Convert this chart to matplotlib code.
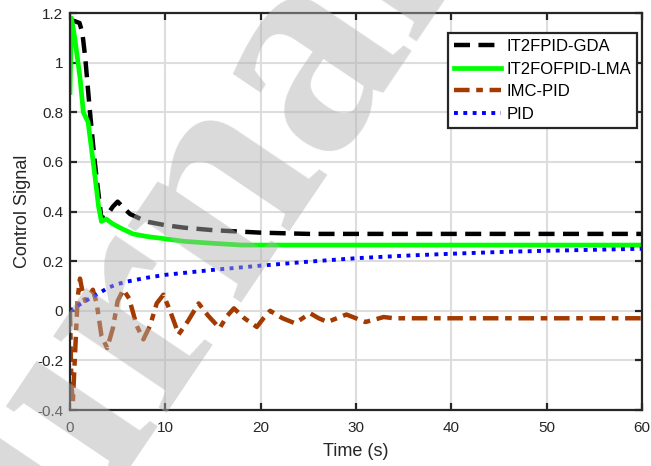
import matplotlib
matplotlib.use("Agg")
import matplotlib.pyplot as plt

plt.rcParams["font.family"] = ["Liberation Sans", "DejaVu Sans"]

# control signal traces, sampled at their corner/extreme points
t_gda = [0, 0.3, 1.0, 1.3, 1.6, 2.1, 2.6, 3.3, 3.8, 4.5, 5.0, 5.5, 6.3, 8, 10, 12, 15, 20, 25, 60]
u_gda = [1.17, 1.17, 1.16, 1.12, 1.02, 0.80, 0.60, 0.37, 0.38, 0.42, 0.44, 0.42, 0.39, 0.36,
         0.345, 0.335, 0.325, 0.315, 0.31, 0.31]

t_lma = [0, 0.15, 0.5, 1.05, 1.4, 1.9, 2.5, 3.0, 3.3, 3.8, 4.5, 5.5, 6.6, 8, 10, 12, 15, 18, 25, 60]
u_lma = [0.88, 1.18, 1.10, 0.94, 0.80, 0.76, 0.58, 0.42, 0.36, 0.37, 0.35, 0.33, 0.31, 0.30,
         0.29, 0.28, 0.272, 0.265, 0.265, 0.265]

t_imc = [0, 0.15, 0.3, 0.5, 0.8, 1.05, 1.3, 1.6, 2.0, 2.4, 2.8, 3.3, 3.9, 4.5, 5.0, 5.6, 6.2,
         7.0, 7.7, 8.4, 9.1, 9.8, 10.5, 11.4, 12.4, 13.5, 14.5, 15.7, 16.5, 17.2, 18.3, 19.6,
         20.3, 21.0, 22.3, 23.6, 24.4, 25.2, 26.1, 27.0, 28.0, 29.0, 30.0, 31.0, 32.0, 32.9,
         34.0, 60]
u_imc = [0.0, -0.30, -0.37, -0.20, 0.05, 0.13, 0.08, 0.04, 0.06, 0.085, 0.03, -0.10, -0.15,
         -0.07, 0.04, 0.085, 0.05, -0.06, -0.115, -0.06, 0.03, 0.065, 0.0, -0.095, -0.04, 0.03,
         -0.02, -0.07, -0.02, 0.01, -0.03, -0.065, -0.03, 0.0, -0.03, -0.05, -0.03, -0.01,
         -0.03, -0.045, -0.03, -0.015, -0.03, -0.045, -0.035, -0.025, -0.03, -0.03]

t_pid = [0, 1, 2, 3, 4, 5, 6, 8, 10, 12, 15, 20, 25, 30, 35, 40, 45, 50, 55, 60]
u_pid = [0, 0.025, 0.048, 0.07, 0.093, 0.108, 0.118, 0.133, 0.145, 0.153, 0.165, 0.182, 0.198,
         0.212, 0.222, 0.23, 0.237, 0.242, 0.246, 0.25]

x_ticks = [0, 10, 20, 30, 40, 50, 60]
y_ticks = [-0.4, -0.2, 0, 0.2, 0.4, 0.6, 0.8, 1, 1.2]
y_ticklabels = ["-0.4", "-0.2", "0", "0.2", "0.4", "0.6", "0.8", "1", "1.2"]

fig = plt.figure(figsize=(6.51, 4.66), dpi=100)
ax = fig.add_axes([0.1075, 0.12, 0.8785, 0.852])

ax.plot(t_gda, u_gda, color="black", lw=3.2, ls=(0, (3.6, 1.9)), label="IT2FPID-GDA")
ax.plot(t_lma, u_lma, color="#00FF00", lw=3.4, ls="-", label="IT2FOFPID-LMA")
ax.plot(t_imc, u_imc, color="#A33A00", lw=3.2, ls=(0, (3.5, 1.5, 1.5, 1.5)), label="IMC-PID")
ax.plot(t_pid, u_pid, color="#0000FF", lw=2.8, ls=(0, (1, 1.4)), label="PID")

ax.set_xlim(0, 60)
ax.set_ylim(-0.4, 1.2)
ax.set_xticks(x_ticks)
ax.set_yticks(y_ticks)
ax.set_yticklabels(y_ticklabels)
ax.grid(True, color="#dddddd", lw=1.5)
ax.set_axisbelow(True)
ax.tick_params(direction="in", length=5, width=1.6, top=True, right=True,
               labelsize=11, labelcolor="#262626", colors="#262626")
ax.tick_params(axis="x", pad=8)
ax.tick_params(axis="y", pad=5)
for sp in ax.spines.values():
    sp.set_linewidth(1.6)
    sp.set_color("#262626")

ax.set_xlabel("Time (s)", fontsize=13, color="#262626")
ax.set_ylabel("Control Signal", fontsize=13, color="#262626")
ax.xaxis.set_label_coords(0.5, -0.083)
ax.yaxis.set_label_coords(-0.068, 0.5)

leg = ax.legend(loc="upper right", bbox_to_anchor=(0.9785, 0.929),
                bbox_transform=fig.transFigure, borderaxespad=0, fontsize=12,
                fancybox=False, framealpha=1, edgecolor="#262626",
                handlelength=2.8, handletextpad=0.35, labelspacing=0.46,
                borderpad=0.35)
leg.get_frame().set_linewidth(1.6)

# faint diagonal stamp over the plot
fig.text(-0.15, -0.73, "Journal Pre-proof", family="Liberation Serif", fontsize=216,
         fontweight="bold", color="#b1b1b1", alpha=0.48, rotation=56,
         rotation_mode="anchor", ha="left", va="baseline", zorder=10)

fig.savefig("out.png", dpi=100)
